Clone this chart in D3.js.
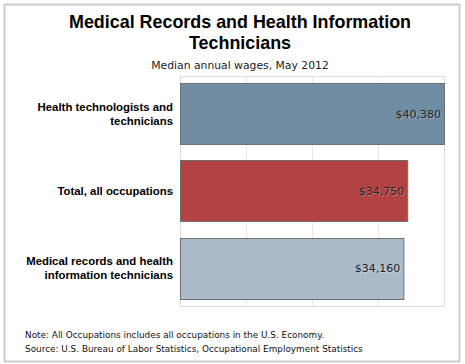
<!DOCTYPE html>
<html>
<head>
<meta charset="utf-8">
<script src="https://cdn.jsdelivr.net/npm/d3@7"></script>
<style>
  body { margin: 0; background: #fff; }
</style>
</head>
<body>
<div id="chart"></div>
<script>
// median wages bar chart

var categories = [
  ["Health technologists and", "technicians"],
  ["Total, all occupations"],
  ["Medical records and health", "information technicians"]
];
var wages = [40380, 34750, 34160];
var wageLabels = ["$40,380", "$34,750", "$34,160"];
var barColors = ["#6f8ca3", "#b34243", "#abbcc9"];

var w = 465,
    h = 364;

var plot = {left: 180, right: 444, top: 76, bottom: 306};

var svg = d3.select("#chart")
            .append("svg")
            .attr("width", w)
            .attr("height", h);

// outer frame
svg.append("rect")
   .attr("x", 4.5).attr("y", 4.5)
   .attr("width", 455).attr("height", 357)
   .attr("fill", "white")
   .attr("stroke", "#cccccc")
   .attr("stroke-width", 2);

var x = d3.scaleLinear()
          .domain([0, d3.max(wages)])
          .range([plot.left, plot.right]);

var y = d3.scaleBand()
          .domain(d3.range(categories.length))
          .range([plot.top, plot.bottom])
          .paddingInner(0.21)
          .paddingOuter(0.09);

// grid lines
var gridVals = d3.range(1, 4).map(function(i){ return d3.max(wages) * i / 4; });
svg.append("g")
   .selectAll("line")
   .data(gridVals)
   .enter()
   .append("line")
   .attr("x1", function(d){ return Math.round(x(d)) + 0.5; })
   .attr("x2", function(d){ return Math.round(x(d)) + 0.5; })
   .attr("y1", plot.top)
   .attr("y2", plot.bottom)
   .attr("stroke", "#e6e6e6");

// plot frame
svg.append("rect")
   .attr("x", plot.left + 0.5).attr("y", plot.top + 0.5)
   .attr("width", plot.right - plot.left).attr("height", plot.bottom - plot.top)
   .attr("fill", "none")
   .attr("stroke", "#dddddd");

// bars
svg.append("g")
   .selectAll("rect")
   .data(wages)
   .enter()
   .append("rect")
   .attr("x", x(0) + 0.5)
   .attr("y", function(d, i){ return Math.round(y(i)) + 0.5; })
   .attr("width", function(d){ return x(d) - x(0); })
   .attr("height", Math.round(y.bandwidth()))
   .attr("fill", function(d, i){ return barColors[i]; })
   .attr("stroke", "#707070");

// value labels
svg.append("g")
   .selectAll("text")
   .data(wages)
   .enter()
   .append("text")
   .attr("x", function(d){ return x(d) - 3; })
   .attr("y", function(d, i){ return y(i) + y.bandwidth() / 2 + 4; })
   .attr("text-anchor", "end")
   .attr("font-family", "DejaVu Sans, sans-serif")
   .attr("font-size", "11px")
   .attr("fill", "#222")
   .style("text-shadow", "1px 1px 1px rgba(255,255,255,0.35)")
   .text(function(d, i){ return wageLabels[i]; });

// category labels
var cat = svg.append("g")
   .selectAll("text")
   .data(categories)
   .enter()
   .append("text")
   .attr("text-anchor", "end")
   .attr("font-family", "Liberation Sans, Arial, sans-serif")
   .attr("font-weight", "bold")
   .attr("font-size", "11.4px")
   .attr("fill", "#000");

cat.each(function(lines, i){
  var cy = y(i) + y.bandwidth() / 2;
  var top = cy - (lines.length - 1) * 14 / 2 + 4;
  d3.select(this).selectAll("tspan")
    .data(lines)
    .enter()
    .append("tspan")
    .attr("x", 173)
    .attr("y", function(d, j){ return top + j * 14; })
    .text(function(d){ return d; });
});

// title
svg.append("text")
   .attr("x", 240).attr("y", 28)
   .attr("text-anchor", "middle")
   .attr("font-family", "Liberation Sans, Arial, sans-serif")
   .attr("font-weight", "bold")
   .attr("font-size", "17.9px")
   .text("Medical Records and Health Information");
svg.append("text")
   .attr("x", 240).attr("y", 49)
   .attr("text-anchor", "middle")
   .attr("font-family", "Liberation Sans, Arial, sans-serif")
   .attr("font-weight", "bold")
   .attr("font-size", "17.9px")
   .text("Technicians");
svg.append("text")
   .attr("x", 240).attr("y", 69)
   .attr("text-anchor", "middle")
   .attr("font-family", "DejaVu Sans, sans-serif")
   .attr("font-size", "10.8px")
   .attr("fill", "#222")
   .text("Median annual wages, May 2012");

// footer notes
svg.append("text")
   .attr("x", 25).attr("y", 338)
   .attr("font-family", "DejaVu Sans, sans-serif")
   .attr("font-size", "8.9px")
   .attr("fill", "#111")
   .text("Note: All Occupations includes all occupations in the U.S. Economy.");
svg.append("text")
   .attr("x", 25).attr("y", 352)
   .attr("font-family", "DejaVu Sans, sans-serif")
   .attr("font-size", "8.9px")
   .attr("fill", "#111")
   .text("Source: U.S. Bureau of Labor Statistics, Occupational Employment Statistics");
</script>
</body>
</html>
